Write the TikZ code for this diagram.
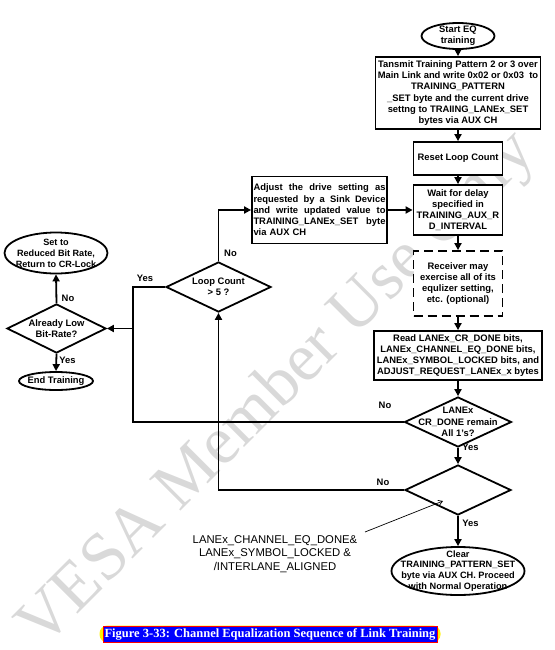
\documentclass[tikz,border=0pt]{standalone}
\usepackage{fontspec}
\setmainfont{Liberation Sans}
\newfontfamily\serifcap{Liberation Serif}
\usetikzlibrary{shapes.geometric,arrows.meta}
\newcommand\jline[1]{\leavevmode\hbox to 132pt{#1}}
\begin{document}
\begin{tikzpicture}[x=1pt,y=-1pt,
  tb/.style={font=\bfseries\fontsize{9.4}{11.2}\selectfont},
  box/.style={tb,draw,line width=1.8pt,fill=white,rectangle,align=center,inner sep=0pt},
  shp/.style={draw,line width=1.8pt,fill=white,inner sep=0pt},
  ell/.style={shp,ellipse},
  dia/.style={shp,diamond},
  lbl/.style={tb,align=center,inner sep=0pt},
  arr/.style={line width=1.8pt,-{Triangle[length=7pt,width=7pt]}},
  ln/.style={line width=1.8pt}]
\useasboundingbox (0,0) rectangle (554,650);

% watermark
\node[font=\serifcap\fontsize{68}{68}\selectfont, text=black!15, rotate=45, anchor=base west, inner sep=0pt] (wm) at (42,650) {VESA Member Use Only};

% boxes
\node[box,minimum width=165,minimum height=72] (trans) at (458,93) {Tansmit Training Pattern 2 or 3 over\\Main Link and write 0x02 or 0x03~ to\\TRAINING\_PATTERN\\\_SET byte and the current drive\\settng to TRAIING\_LANEx\_SET\\bytes via AUX CH};
\node[box,minimum width=89,minimum height=33] (reset) at (458,158.5) {Reset Loop Count};
\node[box,minimum width=89,minimum height=50] (wait) at (458,210) {Wait for delay\\specified in\\TRAINING\_AUX\_R\\D\_INTERVAL};
\node[box,dash pattern=on 9pt off 5pt,minimum width=89,minimum height=65] (opt) at (458,283.5) {Receiver may\\exercise all of its\\equlizer setting,\\etc. (optional)};
\node[box,minimum width=135,minimum height=67,text width=132pt,align=left] (adj) at (319.5,210) {\jline{Adjust\hfil the\hfil drive\hfil setting\hfil as}\\\jline{requested\hfil by\hfil a\hfil Sink\hfil Device}\\\jline{and\hfil write\hfil updated\hfil value\hfil to}\\\jline{TRAINING\_LANEx\_SET\hfil byte}\\via AUX CH};
\node[box,minimum width=168,minimum height=49] (read) at (458,355.5) {Read LANEx\_CR\_DONE bits,\\LANEx\_CHANNEL\_EQ\_DONE bits,\\LANEx\_SYMBOL\_LOCKED bits, and\\ADJUST\_REQUEST\_LANEx\_x bytes};

% ellipses
\node[ell,minimum width=73,minimum height=26] (start) at (458,36) {};
\node[lbl] (startT) at (start) {Start EQ\\training};
\node[ell,minimum width=103,minimum height=41] (reduced) at (56,253) {};
\node[lbl,font=\bfseries\fontsize{9.1}{11}\selectfont] (reducedT) at (reduced) {Set to\\Reduced Bit Rate,\\Return to CR-Lock};
\node[ell,minimum width=74,minimum height=18] (endT) at (56,381) {};
\node[lbl] (endTT) at (endT) {End Training};
\node[ell,minimum width=133,minimum height=48] (clear) at (458,571) {};
\node[lbl,font=\bfseries\fontsize{9.2}{10.9}\selectfont] (clearT) at (clear) {Clear\\TRAINING\_PATTERN\_SET\\byte via AUX CH. Proceed\\with Normal Operation};

% diamonds
\node[dia,minimum width=105,minimum height=50] (loop) at (218.5,287) {};
\node[lbl] (loopT) at (loop) {Loop Count\\> 5 ?};
\node[dia,minimum width=99,minimum height=49] (low) at (56.5,328.5) {};
\node[lbl] (lowT) at (low) {Already Low\\Bit-Rate?};
\node[dia,minimum width=107,minimum height=50] (crd) at (458,422) {};
\node[lbl] (crdT) at (crd) {LANEx\\CR\_DONE remain\\All 1's?};
\node[dia,minimum width=106,minimum height=50] (eq2) at (458,490) {};

% main chain
\draw[arr] (start.south) -- (trans.north);
\draw[arr] (trans.south) -- (reset.north);
\draw[arr] (reset.south) -- (wait.north);
\draw[arr] (wait.south) -- (opt.north);
\draw[arr] (opt.south) -- (read.north);
\draw[arr] (read.south) -- (crd.north);
\draw[arr] (crd.south) -- (eq2.north);
\draw[arr] (eq2.south) -- (clear.north);

% loops
\coordinate (j1) at (133,328.5);
\draw[arr] (crd.west) -| (j1) -- (low.east);
\draw[ln] (loop.west) -| (j1);
\draw[arr] (loop.north) |- (adj.west);
\draw[arr] (adj.east) -- (wait.west);
\draw[arr] (eq2.west) -| (loop.south);
\draw[arr] (low.north) -- (reduced.south);
\draw[arr] (low.south) -- (endT.north);

% labels
\node[lbl] (l1) at (230.5,253) {No};
\node[lbl] (l2) at (145,278) {Yes};
\node[lbl] (l3) at (68,298) {No};
\node[lbl] (l4) at (67.5,360.5) {Yes};
\node[lbl] (l5) at (385,405) {No};
\node[lbl] (l6) at (470.5,447.5) {Yes};
\node[lbl] (l7) at (383,482) {No};
\node[lbl] (l8) at (470.5,523) {Yes};

% annotation
\node[font=\fontsize{11.3}{13.5}\selectfont,align=center,inner sep=0pt] (note) at (275,554) {LANEx\_CHANNEL\_EQ\_DONE\&\\LANEx\_SYMBOL\_LOCKED \&\\/INTERLANE\_ALIGNED};
\coordinate (nA) at (365,532);
\coordinate (nB) at (443,501);
\draw[line width=0.7pt,-{Straight Barb[length=4pt,width=5pt]}] (nA) -- (nB);

% caption
\node[fill=yellow,rounded corners=8pt,minimum width=341,minimum height=17,inner sep=0pt] (capbg) at (270,634) {};
\node[fill=blue,draw=red,line width=0.8pt,minimum width=334,minimum height=16,inner sep=0pt,text=white,font=\serifcap\bfseries\fontsize{12.5}{14}\selectfont] (cap) at (270,634) {Figure 3-33: Channel Equalization Sequence of Link Training};
\end{tikzpicture}
\end{document}
